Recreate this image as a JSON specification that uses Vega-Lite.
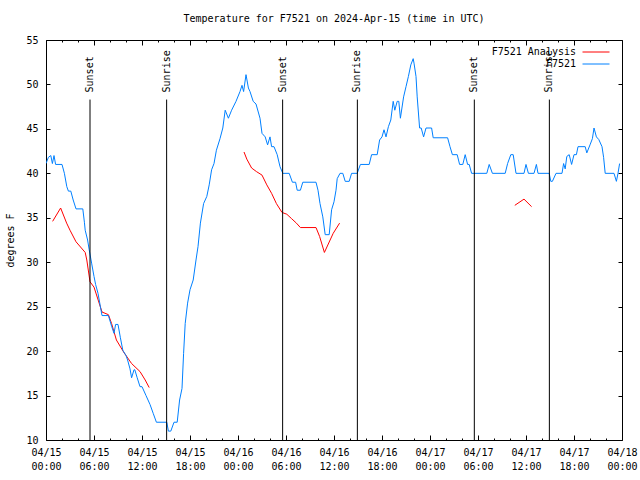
{
  "$schema": "https://vega.github.io/schema/vega-lite/v6.json",
  "width": 576,
  "height": 400,
  "autosize": "none",
  "padding": {"left": 46, "top": 40, "right": 18, "bottom": 40},
  "background": "white",
  "title": {
    "text": "Temperature for F7521 on 2024-Apr-15 (time in UTC)",
    "font": "DejaVu Sans Mono",
    "fontSize": 10,
    "fontWeight": "normal",
    "color": "black",
    "anchor": "middle",
    "offset": 11
  },
  "config": {
    "view": {"stroke": "black", "strokeWidth": 1},
    "axis": {
      "domain": false,
      "grid": false,
      "tickColor": "black",
      "labelColor": "black",
      "labelFont": "DejaVu Sans Mono",
      "labelFontSize": 10,
      "titleFont": "DejaVu Sans Mono",
      "titleFontSize": 10,
      "titleFontWeight": "normal",
      "titleColor": "black"
    },
    "legend": {
      "orient": "none",
      "title": null,
      "symbolType": "stroke",
      "symbolSize": 729,
      "symbolStrokeWidth": 1,
      "padding": 0,
      "labelAlign": "right",
      "labelOffset": -34,
      "labelFont": "DejaVu Sans Mono",
      "labelFontSize": 10,
      "labelColor": "black",
      "labelLimit": 300
    }
  },
  "datasets": {
    "temps": [
      {"h": 0.0, "temp": 41.1, "series": "F7521", "seg": "obs"},
      {"h": 0.3, "temp": 41.8, "series": "F7521", "seg": "obs"},
      {"h": 0.6, "temp": 42, "series": "F7521", "seg": "obs"},
      {"h": 0.8, "temp": 41.1, "series": "F7521", "seg": "obs"},
      {"h": 1.0, "temp": 42, "series": "F7521", "seg": "obs"},
      {"h": 1.2, "temp": 41, "series": "F7521", "seg": "obs"},
      {"h": 2.0, "temp": 41, "series": "F7521", "seg": "obs"},
      {"h": 2.3, "temp": 40, "series": "F7521", "seg": "obs"},
      {"h": 2.6, "temp": 38.5, "series": "F7521", "seg": "obs"},
      {"h": 2.8, "temp": 38, "series": "F7521", "seg": "obs"},
      {"h": 3.1, "temp": 38, "series": "F7521", "seg": "obs"},
      {"h": 3.4, "temp": 37, "series": "F7521", "seg": "obs"},
      {"h": 3.75, "temp": 36, "series": "F7521", "seg": "obs"},
      {"h": 4.6, "temp": 36, "series": "F7521", "seg": "obs"},
      {"h": 4.8, "temp": 34.5, "series": "F7521", "seg": "obs"},
      {"h": 4.9, "temp": 33.6, "series": "F7521", "seg": "obs"},
      {"h": 5.2, "temp": 32.5, "series": "F7521", "seg": "obs"},
      {"h": 5.4, "temp": 31.4, "series": "F7521", "seg": "obs"},
      {"h": 5.7, "temp": 29.9, "series": "F7521", "seg": "obs"},
      {"h": 6.0, "temp": 28.4, "series": "F7521", "seg": "obs"},
      {"h": 6.2, "temp": 27.5, "series": "F7521", "seg": "obs"},
      {"h": 6.5, "temp": 26.5, "series": "F7521", "seg": "obs"},
      {"h": 6.8, "temp": 25, "series": "F7521", "seg": "obs"},
      {"h": 7.0, "temp": 24, "series": "F7521", "seg": "obs"},
      {"h": 7.8, "temp": 24, "series": "F7521", "seg": "obs"},
      {"h": 8.2, "temp": 22.8, "series": "F7521", "seg": "obs"},
      {"h": 8.5, "temp": 22, "series": "F7521", "seg": "obs"},
      {"h": 8.7, "temp": 23, "series": "F7521", "seg": "obs"},
      {"h": 9.0, "temp": 23, "series": "F7521", "seg": "obs"},
      {"h": 9.3, "temp": 21.5, "series": "F7521", "seg": "obs"},
      {"h": 9.6, "temp": 20.1, "series": "F7521", "seg": "obs"},
      {"h": 10.0, "temp": 19.5, "series": "F7521", "seg": "obs"},
      {"h": 10.2, "temp": 19, "series": "F7521", "seg": "obs"},
      {"h": 10.5, "temp": 18, "series": "F7521", "seg": "obs"},
      {"h": 10.7, "temp": 17, "series": "F7521", "seg": "obs"},
      {"h": 11.0, "temp": 17.9, "series": "F7521", "seg": "obs"},
      {"h": 11.1, "temp": 17.9, "series": "F7521", "seg": "obs"},
      {"h": 11.4, "temp": 17, "series": "F7521", "seg": "obs"},
      {"h": 11.75, "temp": 16, "series": "F7521", "seg": "obs"},
      {"h": 12.0, "temp": 16, "series": "F7521", "seg": "obs"},
      {"h": 12.5, "temp": 15, "series": "F7521", "seg": "obs"},
      {"h": 13.0, "temp": 14, "series": "F7521", "seg": "obs"},
      {"h": 13.4, "temp": 13, "series": "F7521", "seg": "obs"},
      {"h": 13.8, "temp": 12, "series": "F7521", "seg": "obs"},
      {"h": 15.1, "temp": 12, "series": "F7521", "seg": "obs"},
      {"h": 15.3, "temp": 11, "series": "F7521", "seg": "obs"},
      {"h": 15.6, "temp": 11, "series": "F7521", "seg": "obs"},
      {"h": 16.0, "temp": 12, "series": "F7521", "seg": "obs"},
      {"h": 16.4, "temp": 12, "series": "F7521", "seg": "obs"},
      {"h": 16.7, "temp": 14.5, "series": "F7521", "seg": "obs"},
      {"h": 17.0, "temp": 15.8, "series": "F7521", "seg": "obs"},
      {"h": 17.2, "temp": 19.75, "series": "F7521", "seg": "obs"},
      {"h": 17.4, "temp": 23.1, "series": "F7521", "seg": "obs"},
      {"h": 17.7, "temp": 25.4, "series": "F7521", "seg": "obs"},
      {"h": 18.0, "temp": 26.9, "series": "F7521", "seg": "obs"},
      {"h": 18.4, "temp": 28, "series": "F7521", "seg": "obs"},
      {"h": 18.75, "temp": 30.25, "series": "F7521", "seg": "obs"},
      {"h": 19.0, "temp": 31.75, "series": "F7521", "seg": "obs"},
      {"h": 19.3, "temp": 34.4, "series": "F7521", "seg": "obs"},
      {"h": 19.7, "temp": 36.6, "series": "F7521", "seg": "obs"},
      {"h": 20.1, "temp": 37.4, "series": "F7521", "seg": "obs"},
      {"h": 20.4, "temp": 38.7, "series": "F7521", "seg": "obs"},
      {"h": 20.7, "temp": 40.4, "series": "F7521", "seg": "obs"},
      {"h": 21.0, "temp": 41.1, "series": "F7521", "seg": "obs"},
      {"h": 21.3, "temp": 42.6, "series": "F7521", "seg": "obs"},
      {"h": 21.75, "temp": 43.9, "series": "F7521", "seg": "obs"},
      {"h": 22.1, "temp": 45.1, "series": "F7521", "seg": "obs"},
      {"h": 22.4, "temp": 47.1, "series": "F7521", "seg": "obs"},
      {"h": 22.8, "temp": 46.2, "series": "F7521", "seg": "obs"},
      {"h": 23.2, "temp": 47.1, "series": "F7521", "seg": "obs"},
      {"h": 23.75, "temp": 48.1, "series": "F7521", "seg": "obs"},
      {"h": 24.25, "temp": 49.2, "series": "F7521", "seg": "obs"},
      {"h": 24.5, "temp": 49.9, "series": "F7521", "seg": "obs"},
      {"h": 24.7, "temp": 49.2, "series": "F7521", "seg": "obs"},
      {"h": 25.0, "temp": 51.1, "series": "F7521", "seg": "obs"},
      {"h": 25.3, "temp": 49.6, "series": "F7521", "seg": "obs"},
      {"h": 25.5, "temp": 49.2, "series": "F7521", "seg": "obs"},
      {"h": 25.9, "temp": 48.1, "series": "F7521", "seg": "obs"},
      {"h": 26.25, "temp": 47.8, "series": "F7521", "seg": "obs"},
      {"h": 26.75, "temp": 46.2, "series": "F7521", "seg": "obs"},
      {"h": 27.0, "temp": 44.5, "series": "F7521", "seg": "obs"},
      {"h": 27.4, "temp": 44.1, "series": "F7521", "seg": "obs"},
      {"h": 27.7, "temp": 43.2, "series": "F7521", "seg": "obs"},
      {"h": 28.0, "temp": 44.1, "series": "F7521", "seg": "obs"},
      {"h": 28.2, "temp": 43, "series": "F7521", "seg": "obs"},
      {"h": 28.5, "temp": 43, "series": "F7521", "seg": "obs"},
      {"h": 28.9, "temp": 42.1, "series": "F7521", "seg": "obs"},
      {"h": 29.25, "temp": 40.75, "series": "F7521", "seg": "obs"},
      {"h": 29.6, "temp": 40, "series": "F7521", "seg": "obs"},
      {"h": 30.4, "temp": 40, "series": "F7521", "seg": "obs"},
      {"h": 30.8, "temp": 39, "series": "F7521", "seg": "obs"},
      {"h": 31.2, "temp": 39, "series": "F7521", "seg": "obs"},
      {"h": 31.4, "temp": 38.1, "series": "F7521", "seg": "obs"},
      {"h": 31.8, "temp": 38.1, "series": "F7521", "seg": "obs"},
      {"h": 32.1, "temp": 39, "series": "F7521", "seg": "obs"},
      {"h": 33.75, "temp": 39, "series": "F7521", "seg": "obs"},
      {"h": 34.0, "temp": 38.1, "series": "F7521", "seg": "obs"},
      {"h": 34.25, "temp": 36.6, "series": "F7521", "seg": "obs"},
      {"h": 34.6, "temp": 35.1, "series": "F7521", "seg": "obs"},
      {"h": 34.9, "temp": 33.1, "series": "F7521", "seg": "obs"},
      {"h": 35.4, "temp": 33.1, "series": "F7521", "seg": "obs"},
      {"h": 35.7, "temp": 35.9, "series": "F7521", "seg": "obs"},
      {"h": 36.0, "temp": 36.8, "series": "F7521", "seg": "obs"},
      {"h": 36.25, "temp": 38.1, "series": "F7521", "seg": "obs"},
      {"h": 36.4, "temp": 39.4, "series": "F7521", "seg": "obs"},
      {"h": 36.75, "temp": 40, "series": "F7521", "seg": "obs"},
      {"h": 37.1, "temp": 40, "series": "F7521", "seg": "obs"},
      {"h": 37.4, "temp": 39.1, "series": "F7521", "seg": "obs"},
      {"h": 37.9, "temp": 39.1, "series": "F7521", "seg": "obs"},
      {"h": 38.2, "temp": 40, "series": "F7521", "seg": "obs"},
      {"h": 38.9, "temp": 40, "series": "F7521", "seg": "obs"},
      {"h": 39.3, "temp": 41, "series": "F7521", "seg": "obs"},
      {"h": 40.4, "temp": 41, "series": "F7521", "seg": "obs"},
      {"h": 40.7, "temp": 42.1, "series": "F7521", "seg": "obs"},
      {"h": 41.4, "temp": 42.1, "series": "F7521", "seg": "obs"},
      {"h": 41.7, "temp": 43.75, "series": "F7521", "seg": "obs"},
      {"h": 42.0, "temp": 44.1, "series": "F7521", "seg": "obs"},
      {"h": 42.25, "temp": 44.9, "series": "F7521", "seg": "obs"},
      {"h": 42.5, "temp": 44.1, "series": "F7521", "seg": "obs"},
      {"h": 42.8, "temp": 45.25, "series": "F7521", "seg": "obs"},
      {"h": 43.1, "temp": 46, "series": "F7521", "seg": "obs"},
      {"h": 43.4, "temp": 48.1, "series": "F7521", "seg": "obs"},
      {"h": 43.6, "temp": 47.1, "series": "F7521", "seg": "obs"},
      {"h": 43.9, "temp": 48.1, "series": "F7521", "seg": "obs"},
      {"h": 44.1, "temp": 48.1, "series": "F7521", "seg": "obs"},
      {"h": 44.3, "temp": 46.2, "series": "F7521", "seg": "obs"},
      {"h": 44.7, "temp": 48.6, "series": "F7521", "seg": "obs"},
      {"h": 45.0, "temp": 49.75, "series": "F7521", "seg": "obs"},
      {"h": 45.3, "temp": 50.9, "series": "F7521", "seg": "obs"},
      {"h": 45.6, "temp": 52.2, "series": "F7521", "seg": "obs"},
      {"h": 45.9, "temp": 52.9, "series": "F7521", "seg": "obs"},
      {"h": 46.0, "temp": 52.4, "series": "F7521", "seg": "obs"},
      {"h": 46.25, "temp": 50.9, "series": "F7521", "seg": "obs"},
      {"h": 46.4, "temp": 48.6, "series": "F7521", "seg": "obs"},
      {"h": 46.7, "temp": 45.1, "series": "F7521", "seg": "obs"},
      {"h": 46.9, "temp": 45.1, "series": "F7521", "seg": "obs"},
      {"h": 47.2, "temp": 44.1, "series": "F7521", "seg": "obs"},
      {"h": 47.5, "temp": 45.1, "series": "F7521", "seg": "obs"},
      {"h": 48.2, "temp": 45.1, "series": "F7521", "seg": "obs"},
      {"h": 48.4, "temp": 44, "series": "F7521", "seg": "obs"},
      {"h": 50.2, "temp": 44, "series": "F7521", "seg": "obs"},
      {"h": 50.5, "temp": 43, "series": "F7521", "seg": "obs"},
      {"h": 50.8, "temp": 42.1, "series": "F7521", "seg": "obs"},
      {"h": 51.4, "temp": 42.1, "series": "F7521", "seg": "obs"},
      {"h": 51.7, "temp": 41, "series": "F7521", "seg": "obs"},
      {"h": 52.1, "temp": 41, "series": "F7521", "seg": "obs"},
      {"h": 52.4, "temp": 42.1, "series": "F7521", "seg": "obs"},
      {"h": 52.7, "temp": 41, "series": "F7521", "seg": "obs"},
      {"h": 52.9, "temp": 41, "series": "F7521", "seg": "obs"},
      {"h": 53.2, "temp": 40, "series": "F7521", "seg": "obs"},
      {"h": 55.1, "temp": 40, "series": "F7521", "seg": "obs"},
      {"h": 55.4, "temp": 41, "series": "F7521", "seg": "obs"},
      {"h": 55.8, "temp": 40, "series": "F7521", "seg": "obs"},
      {"h": 57.4, "temp": 40, "series": "F7521", "seg": "obs"},
      {"h": 57.7, "temp": 41.1, "series": "F7521", "seg": "obs"},
      {"h": 58.1, "temp": 42.1, "series": "F7521", "seg": "obs"},
      {"h": 58.4, "temp": 42.1, "series": "F7521", "seg": "obs"},
      {"h": 58.75, "temp": 40, "series": "F7521", "seg": "obs"},
      {"h": 59.75, "temp": 40, "series": "F7521", "seg": "obs"},
      {"h": 60.0, "temp": 41, "series": "F7521", "seg": "obs"},
      {"h": 60.3, "temp": 40, "series": "F7521", "seg": "obs"},
      {"h": 61.0, "temp": 40, "series": "F7521", "seg": "obs"},
      {"h": 61.3, "temp": 41, "series": "F7521", "seg": "obs"},
      {"h": 61.5, "temp": 40, "series": "F7521", "seg": "obs"},
      {"h": 62.9, "temp": 40, "series": "F7521", "seg": "obs"},
      {"h": 63.1, "temp": 39.1, "series": "F7521", "seg": "obs"},
      {"h": 63.3, "temp": 39.1, "series": "F7521", "seg": "obs"},
      {"h": 63.75, "temp": 40, "series": "F7521", "seg": "obs"},
      {"h": 64.5, "temp": 40, "series": "F7521", "seg": "obs"},
      {"h": 64.7, "temp": 41.1, "series": "F7521", "seg": "obs"},
      {"h": 64.9, "temp": 40.5, "series": "F7521", "seg": "obs"},
      {"h": 65.1, "temp": 41.9, "series": "F7521", "seg": "obs"},
      {"h": 65.4, "temp": 42.1, "series": "F7521", "seg": "obs"},
      {"h": 65.7, "temp": 41, "series": "F7521", "seg": "obs"},
      {"h": 66.0, "temp": 42.1, "series": "F7521", "seg": "obs"},
      {"h": 66.3, "temp": 42.1, "series": "F7521", "seg": "obs"},
      {"h": 66.5, "temp": 43, "series": "F7521", "seg": "obs"},
      {"h": 67.4, "temp": 43, "series": "F7521", "seg": "obs"},
      {"h": 67.6, "temp": 42.3, "series": "F7521", "seg": "obs"},
      {"h": 68.0, "temp": 43.2, "series": "F7521", "seg": "obs"},
      {"h": 68.3, "temp": 43.9, "series": "F7521", "seg": "obs"},
      {"h": 68.5, "temp": 45.1, "series": "F7521", "seg": "obs"},
      {"h": 68.8, "temp": 44.1, "series": "F7521", "seg": "obs"},
      {"h": 69.1, "temp": 43.8, "series": "F7521", "seg": "obs"},
      {"h": 69.5, "temp": 43, "series": "F7521", "seg": "obs"},
      {"h": 69.7, "temp": 41.8, "series": "F7521", "seg": "obs"},
      {"h": 69.9, "temp": 40, "series": "F7521", "seg": "obs"},
      {"h": 71.0, "temp": 40, "series": "F7521", "seg": "obs"},
      {"h": 71.3, "temp": 39.1, "series": "F7521", "seg": "obs"},
      {"h": 71.5, "temp": 40, "series": "F7521", "seg": "obs"},
      {"h": 71.7, "temp": 41.1, "series": "F7521", "seg": "obs"},
      {"h": 0.83, "temp": 34.6, "series": "F7521 Analysis", "seg": "a1"},
      {"h": 1.83, "temp": 36.1, "series": "F7521 Analysis", "seg": "a1"},
      {"h": 2.58, "temp": 34.4, "series": "F7521 Analysis", "seg": "a1"},
      {"h": 3.0, "temp": 33.6, "series": "F7521 Analysis", "seg": "a1"},
      {"h": 3.75, "temp": 32.3, "series": "F7521 Analysis", "seg": "a1"},
      {"h": 4.9, "temp": 31.1, "series": "F7521 Analysis", "seg": "a1"},
      {"h": 5.1, "temp": 30.25, "series": "F7521 Analysis", "seg": "a1"},
      {"h": 5.5, "temp": 27.8, "series": "F7521 Analysis", "seg": "a1"},
      {"h": 6.0, "temp": 27.2, "series": "F7521 Analysis", "seg": "a1"},
      {"h": 7.0, "temp": 24.4, "series": "F7521 Analysis", "seg": "a1"},
      {"h": 7.8, "temp": 24.1, "series": "F7521 Analysis", "seg": "a1"},
      {"h": 8.2, "temp": 23.1, "series": "F7521 Analysis", "seg": "a1"},
      {"h": 8.8, "temp": 21.25, "series": "F7521 Analysis", "seg": "a1"},
      {"h": 9.7, "temp": 19.9, "series": "F7521 Analysis", "seg": "a1"},
      {"h": 10.7, "temp": 18.6, "series": "F7521 Analysis", "seg": "a1"},
      {"h": 11.75, "temp": 17.7, "series": "F7521 Analysis", "seg": "a1"},
      {"h": 12.4, "temp": 16.75, "series": "F7521 Analysis", "seg": "a1"},
      {"h": 12.9, "temp": 15.9, "series": "F7521 Analysis", "seg": "a1"},
      {"h": 24.75, "temp": 42.4, "series": "F7521 Analysis", "seg": "a2"},
      {"h": 25.1, "temp": 41.6, "series": "F7521 Analysis", "seg": "a2"},
      {"h": 25.7, "temp": 40.6, "series": "F7521 Analysis", "seg": "a2"},
      {"h": 26.3, "temp": 40.2, "series": "F7521 Analysis", "seg": "a2"},
      {"h": 27.0, "temp": 39.8, "series": "F7521 Analysis", "seg": "a2"},
      {"h": 27.6, "temp": 38.7, "series": "F7521 Analysis", "seg": "a2"},
      {"h": 28.2, "temp": 37.75, "series": "F7521 Analysis", "seg": "a2"},
      {"h": 28.8, "temp": 36.6, "series": "F7521 Analysis", "seg": "a2"},
      {"h": 29.5, "temp": 35.6, "series": "F7521 Analysis", "seg": "a2"},
      {"h": 30.1, "temp": 35.4, "series": "F7521 Analysis", "seg": "a2"},
      {"h": 30.7, "temp": 34.9, "series": "F7521 Analysis", "seg": "a2"},
      {"h": 31.3, "temp": 34.4, "series": "F7521 Analysis", "seg": "a2"},
      {"h": 31.8, "temp": 33.9, "series": "F7521 Analysis", "seg": "a2"},
      {"h": 33.75, "temp": 33.9, "series": "F7521 Analysis", "seg": "a2"},
      {"h": 34.2, "temp": 32.9, "series": "F7521 Analysis", "seg": "a2"},
      {"h": 34.8, "temp": 31.1, "series": "F7521 Analysis", "seg": "a2"},
      {"h": 35.9, "temp": 33.25, "series": "F7521 Analysis", "seg": "a2"},
      {"h": 36.7, "temp": 34.4, "series": "F7521 Analysis", "seg": "a2"},
      {"h": 58.6, "temp": 36.4, "series": "F7521 Analysis", "seg": "a3"},
      {"h": 59.75, "temp": 37.1, "series": "F7521 Analysis", "seg": "a3"},
      {"h": 60.7, "temp": 36.25, "series": "F7521 Analysis", "seg": "a3"}
    ],
    "sun": [
      {"h": 5.5, "event": "Sunset"},
      {"h": 15.08, "event": "Sunrise"},
      {"h": 29.58, "event": "Sunset"},
      {"h": 38.92, "event": "Sunrise"},
      {"h": 53.54, "event": "Sunset"},
      {"h": 62.92, "event": "Sunrise"}
    ]
  },
  "layer": [
    {
      "data": {"name": "temps"},
      "transform": [{"filter": "datum.series == 'F7521 Analysis'"}],
      "mark": {"type": "line", "strokeWidth": 1, "clip": true},
      "encoding": {
        "x": {
          "field": "h",
          "type": "quantitative",
          "scale": {"domain": [0, 72], "nice": false, "zero": false},
          "axis": {
            "orient": "bottom",
            "values": [0, 6, 12, 18, 24, 30, 36, 42, 48, 54, 60, 66, 72],
            "tickSize": -5,
            "labelPadding": 12,
            "labelAngle": 0,
            "labelAlign": "center",
            "labelBaseline": "top",
            "labelLineHeight": 14,
            "labelFlush": false,
            "labelOverlap": false,
            "labelExpr": "['04/' + (15 + floor(datum.value / 24)), (datum.value % 24 < 10 ? '0' : '') + (datum.value % 24) + ':00']",
            "title": null
          }
        },
        "y": {
          "field": "temp",
          "type": "quantitative",
          "scale": {"domain": [10, 55], "nice": false, "zero": false},
          "axis": {
            "orient": "left",
            "values": [10, 15, 20, 25, 30, 35, 40, 45, 50, 55],
            "tickSize": -4,
            "labelPadding": 12,
            "labelFlush": false,
            "title": "degrees F",
            "titlePadding": 10
          }
        },
        "color": {
          "field": "series",
          "type": "nominal",
          "scale": {"domain": ["F7521 Analysis"], "range": ["#ff0000"]},
          "legend": {"legendX": 536, "legendY": -2}
        },
        "detail": {"field": "seg", "type": "nominal"}
      }
    },
    {
      "data": {"name": "temps"},
      "transform": [{"filter": "datum.series == 'F7521'"}],
      "mark": {"type": "line", "strokeWidth": 1, "clip": true},
      "encoding": {
        "x": {"field": "h", "type": "quantitative", "axis": null},
        "y": {"field": "temp", "type": "quantitative", "axis": null},
        "stroke": {
          "field": "series",
          "type": "nominal",
          "scale": {"domain": ["F7521"], "range": ["#0080ff"]},
          "legend": {"legendX": 536, "legendY": 10}
        }
      }
    },
    {
      "data": {"name": "sun"},
      "mark": {"type": "rule", "color": "black", "strokeWidth": 1},
      "encoding": {
        "x": {
          "field": "h",
          "type": "quantitative",
          "axis": {
            "orient": "top",
            "values": [0, 6, 12, 18, 24, 30, 36, 42, 48, 54, 60, 66, 72],
            "tickSize": -5,
            "labels": false,
            "title": null
          }
        },
        "y": {
          "datum": 48.3,
          "type": "quantitative",
          "axis": {
            "orient": "right",
            "values": [10, 15, 20, 25, 30, 35, 40, 45, 50, 55],
            "tickSize": -4,
            "labels": false,
            "title": null
          }
        },
        "y2": {"datum": 10}
      }
    },
    {
      "data": {"name": "sun"},
      "mark": {
        "type": "text",
        "angle": 270,
        "align": "left",
        "baseline": "middle",
        "font": "DejaVu Sans Mono",
        "fontSize": 10,
        "color": "black"
      },
      "encoding": {
        "x": {
          "field": "h",
          "type": "quantitative",
          "axis": {
            "orient": "bottom",
            "values": [2, 4, 8, 10, 14, 16, 20, 22, 26, 28, 32, 34, 38, 40, 44, 46, 50, 52, 56, 58, 62, 64, 68, 70],
            "tickSize": -2,
            "labels": false,
            "title": null
          }
        },
        "y": {"datum": 49.1, "type": "quantitative", "axis": null},
        "text": {"field": "event"}
      }
    },
    {
      "data": {"name": "sun"},
      "mark": {"type": "rule", "opacity": 0},
      "encoding": {
        "x": {
          "field": "h",
          "type": "quantitative",
          "axis": {
            "orient": "top",
            "values": [2, 4, 8, 10, 14, 16, 20, 22, 26, 28, 32, 34, 38, 40, 44, 46, 50, 52, 56, 58, 62, 64, 68, 70],
            "tickSize": -2,
            "labels": false,
            "title": null
          }
        },
        "y": {"datum": 48.3, "type": "quantitative", "axis": null}
      }
    }
  ],
  "resolve": {
    "scale": {"x": "shared", "y": "shared"},
    "axis": {"x": "independent", "y": "independent"}
  }
}
